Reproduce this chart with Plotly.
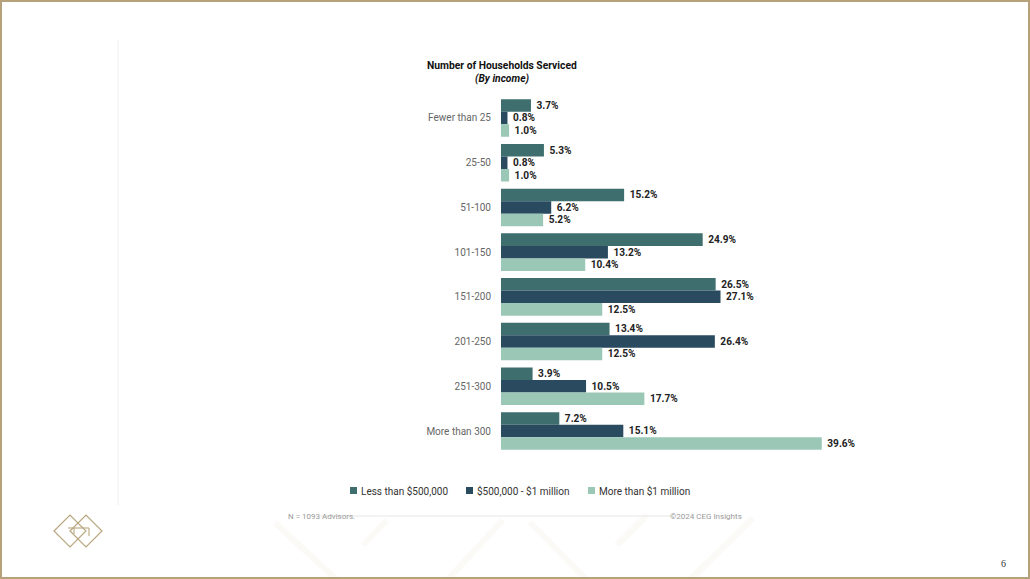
import plotly.graph_objects as go

categories = ["Fewer than 25", "25-50", "51-100", "101-150", "151-200", "201-250", "251-300", "More than 300"]
series_names = ["Less than $500,000", "$500,000 - $1 million", "More than $1 million"]
less_500k = [3.7, 5.3, 15.2, 24.9, 26.5, 13.4, 3.9, 7.2]
mid_1m = [0.8, 0.8, 6.2, 13.2, 27.1, 26.4, 10.5, 15.1]
more_1m = [1.0, 1.0, 5.2, 10.4, 12.5, 12.5, 17.7, 39.6]
colors = ["#3f6e6e", "#2a4a60", "#9bc8b6"]

W, H = 1030, 579
def px(x): return x / W
def py(y): return 1 - y / H

fig = go.Figure()
for name, vals, c in zip(series_names, [less_500k, mid_1m, more_1m], colors):
    fig.add_trace(go.Bar(
        y=categories, x=vals, name=name, orientation="h",
        marker=dict(color=c, line=dict(width=0)),
        text=[f"\u00a0{v:.1f}%" for v in vals], textposition="outside",
        textfont=dict(family="Roboto", size=10.5, color="#222222", weight="bold"),
        cliponaxis=False, hoverinfo="skip", showlegend=False,
    ))

shapes = []
# faint background chevrons
faint = "#fbfaf7"
for (x0, y0, x1, y1) in [(275, 523, 337, 580), (363, 545, 387, 520), (447, 580, 503, 520),
                         (530, 522, 587, 580), (617, 545, 647, 515), (690, 580, 753, 518)]:
    shapes.append(dict(type="line", xref="paper", yref="paper", x0=px(x0), x1=px(x1), y0=py(y0), y1=py(y1),
                       line=dict(color=faint, width=6), layer="below"))
# gold border
shapes.append(dict(type="rect", xref="paper", yref="paper", x0=px(1), x1=px(1029), y0=py(1), y1=py(578),
                   line=dict(color="#b5a27a", width=2), fillcolor="rgba(0,0,0,0)", layer="above"))
# faint vertical line
shapes.append(dict(type="line", xref="paper", yref="paper", x0=px(118), x1=px(118), y0=py(40), y1=py(505),
                   line=dict(color="#eeeeee", width=1)))
# footer line
shapes.append(dict(type="line", xref="paper", yref="paper", x0=px(318), x1=px(672), y0=py(516), y1=py(516),
                   line=dict(color="#e6e6e6", width=1)))
# logo diamonds
gold = "#b9a67e"
for cx in (70, 86):
    path = f"M {px(cx-16)} {py(531)} L {px(cx)} {py(515)} L {px(cx+16)} {py(531)} L {px(cx)} {py(547)} Z"
    shapes.append(dict(type="path", xref="paper", yref="paper", path=path, line=dict(color=gold, width=1.2)))
for (x0, y0, x1, y1) in [(68, 528, 89, 528), (89, 528, 89, 536), (74, 528, 74, 534)]:
    shapes.append(dict(type="line", xref="paper", yref="paper", x0=px(x0), x1=px(x1), y0=py(y0), y1=py(y1),
                       line=dict(color=gold, width=1.1)))

annotations = [
    dict(text="<b>Number of Households Serviced</b>", x=px(502), y=py(66), xref="paper", yref="paper",
         xanchor="center", yanchor="middle",
         showarrow=False, font=dict(family="Roboto", size=10.3, color="#111111")),
    dict(text="<b><i>(By income)</i></b>", x=px(502), y=py(78), xref="paper", yref="paper",
         xanchor="center", yanchor="middle",
         showarrow=False, font=dict(family="Roboto", size=10.3, color="#111111")),
    dict(text="N = 1093 Advisors.", x=px(286), y=py(516), xref="paper", yref="paper",
         xanchor="left", yanchor="middle",
         showarrow=False, font=dict(family="Roboto", size=8, color="#9a9a9a")),
    dict(text="©2024 CEG Insights", x=px(744), y=py(516), xref="paper", yref="paper",
         xanchor="right", yanchor="middle",
         showarrow=False, font=dict(family="Roboto", size=8, color="#9a9a9a")),
    dict(text="6", x=px(1003), y=py(563), xref="paper", yref="paper",
         xanchor="center", yanchor="middle",
         showarrow=False, font=dict(family="Liberation Serif", size=10, color="#333333")),
]

# custom legend
legend_x = [350, 466, 588]
for name, c, lx in zip(series_names, colors, legend_x):
    shapes.append(dict(type="rect", xref="paper", yref="paper", x0=px(lx), x1=px(lx + 7),
                       y0=py(494), y1=py(487), fillcolor=c, line=dict(width=0)))
    annotations.append(dict(text=name, x=px(lx + 9), y=py(490.5), xref="paper", yref="paper",
                            xanchor="left", yanchor="middle", showarrow=False,
                            font=dict(family="Roboto", size=10, color="#333333")))

fig.update_layout(
    width=W, height=H, margin=dict(l=0, r=0, t=0, b=0),
    paper_bgcolor="white", plot_bgcolor="white",
    barmode="group", bargap=0.16, bargroupgap=0.0,
    showlegend=False,
    xaxis=dict(domain=[px(501), px(825)], range=[0, 40], visible=False, fixedrange=True),
    yaxis=dict(domain=[py(453.4), py(95.6)], autorange="reversed", showgrid=False, zeroline=False,
               showline=False, ticks="", ticklabelstandoff=9, fixedrange=True,
               tickfont=dict(family="Roboto", size=10, color="#666666")),
    shapes=shapes, annotations=annotations,
    font=dict(family="Roboto"),
)
fig.write_html("out.html", config={"displayModeBar": False},
               post_script="document.body.style.margin='0';document.body.style.overflow='hidden';")
